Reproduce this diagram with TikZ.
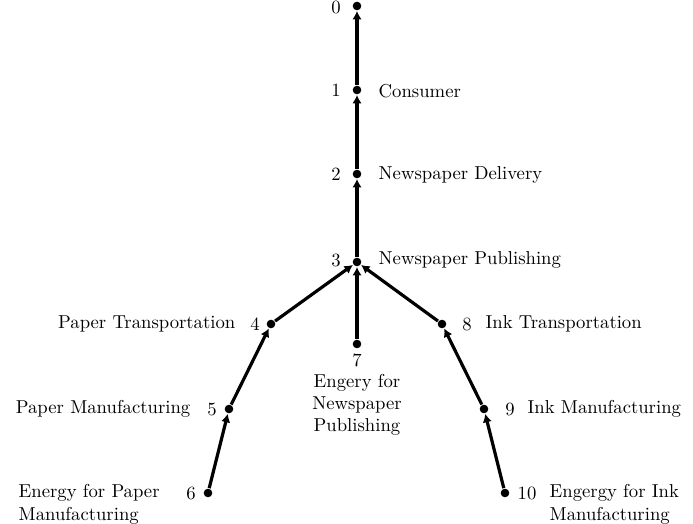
\documentclass[tikz,border=0pt]{standalone}
\usepackage{tikz}
\usetikzlibrary{arrows.meta,positioning}
\tikzset{every picture/.style={line width=0.75pt}}

\begin{document}
\begin{tikzpicture}[x=0.535pt,y=-0.535pt,
    dot/.style={circle,fill=black,inner sep=0pt,minimum size=4.6pt},
    edge/.style={line width=1.7pt,-{Latex[length=4.5pt,width=5pt]}},
    num/.style={inner sep=0pt},
    txt/.style={inner sep=0pt}]
    \useasboundingbox (0,0) rectangle (693,524);

    % Supply chain vertices
    \node[dot] (v0) at (357,6) {};
    \node[dot] (v1) at (357,90) {};
    \node[dot] (v2) at (357,174) {};
    \node[dot] (v3) at (357,262) {};
    \node[dot] (v4) at (271,324) {};
    \node[dot] (v5) at (229,409) {};
    \node[dot] (v6) at (208,493) {};
    \node[dot] (v7) at (357,344) {};
    \node[dot] (v8) at (442,324) {};
    \node[dot] (v9) at (484,409) {};
    \node[dot] (v10) at (505,493) {};

    % Edges point towards the consumer
    \draw[edge] (v1) -- (v0);
    \draw[edge] (v2) -- (v1);
    \draw[edge] (v3) -- (v2);
    \draw[edge] (v4) -- (v3);
    \draw[edge] (v7) -- (v3);
    \draw[edge] (v8) -- (v3);
    \draw[edge] (v5) -- (v4);
    \draw[edge] (v6) -- (v5);
    \draw[edge] (v9) -- (v8);
    \draw[edge] (v10) -- (v9);

    % Vertex numbers
    \node[num] (n0) at (336,7) {0};
    \node[num] (n1) at (336,90) {1};
    \node[num] (n2) at (336,174) {2};
    \node[num] (n3) at (336,260) {3};
    \node[num] (n4) at (255,324) {4};
    \node[num] (n5) at (212,409) {5};
    \node[num] (n6) at (191,493) {6};
    \node[num] (n7) at (357,360) {7};
    \node[num] (n8) at (467,324) {8};
    \node[num] (n9) at (510,409) {9};
    \node[num] (n10) at (527,493) {10};

    % Vertex names
    \node[txt,anchor=west] (t1) at (378,91) {Consumer};
    \node[txt,anchor=west] (t2) at (378,175) {Newspaper Delivery};
    \node[txt,anchor=west] (t3) at (378,260) {Newspaper Publishing};
    \node[txt,anchor=east] (t4) at (236,324) {Paper Transportation};
    \node[txt,anchor=east] (t5) at (191,409) {Paper Manufacturing};
    \node[txt,anchor=base west,align=left] (t6) at (18,520) {Energy for Paper\\Manufacturing};
    \node[txt,anchor=base,align=center] (t7) at (357,432) {Engery for\\Newspaper\\Publishing};
    \node[txt,anchor=base west,align=left] (t10) at (549,520) {Engergy for Ink\\Manufacturing};
    \node[txt,anchor=west] (t8) at (485,324) {Ink Transportation};
    \node[txt,anchor=west] (t9) at (527,409) {Ink Manufacturing};
\end{tikzpicture}
\end{document}
